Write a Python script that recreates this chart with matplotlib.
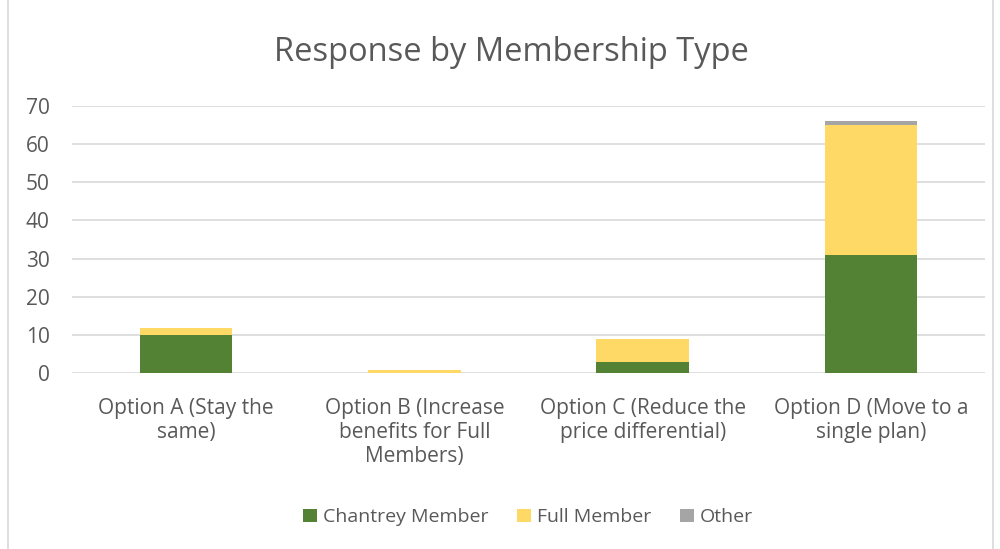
import matplotlib.pyplot as plt
import numpy as np

plt.rcParams['font.family'] = ['Open Sans', 'DejaVu Sans']

categories = ['Option A (Stay the\nsame)', 'Option B (Increase\nbenefits for Full\nMembers)',
              'Option C (Reduce the\nprice differential)', 'Option D (Move to a\nsingle plan)']
chantrey = [10, 0, 3, 31]
full = [2, 1, 6, 34]
other = [0, 0, 0, 1]

colors = ['#548235', '#ffd966', '#a5a5a5']
txt = '#595959'

fig = plt.figure(figsize=(10, 5.49), dpi=100)
ax = fig.add_axes([0.072, 0.3197, 0.913, 0.4878])

x = np.arange(len(categories))
w = 0.405
ax.bar(x, chantrey, w, color=colors[0], label='Chantrey Member', zorder=3)
ax.bar(x, full, w, bottom=chantrey, color=colors[1], label='Full Member', zorder=3)
bot = np.array(chantrey) + np.array(full)
ax.bar(x, other, w, bottom=bot, color=colors[2], label='Other', zorder=3)

ax.set_ylim(0, 70)
ax.set_xlim(-0.5, 3.5)
ax.set_yticks(range(0, 71, 10))
ax.grid(axis='y', color='#d9d9d9', linewidth=1.2, zorder=0)
for s in ax.spines.values():
    s.set_visible(False)
ax.tick_params(length=0, colors=txt, labelsize=15)
ax.tick_params(axis='y', pad=16)
ax.tick_params(axis='x', pad=18)
ax.set_xticks(x)
ax.set_xticklabels(categories, color=txt, linespacing=1.17)

fig.text(0.511, 0.905, 'Response by Membership Type', ha='center', va='center', fontsize=23.5, color=txt)
fig.legend(loc='center', bbox_to_anchor=(0.528, 0.058), ncol=3, frameon=False,
           fontsize=14, labelcolor=txt, handlelength=0.7, handleheight=0.7,
           columnspacing=1.5, handletextpad=0.3)

fig.patches.append(plt.Rectangle((0.008, -0.01), 0.985, 1.02, transform=fig.transFigure,
                                 fill=False, edgecolor='#d9d9d9', linewidth=1.2))
fig.savefig('out.png', dpi=100)
